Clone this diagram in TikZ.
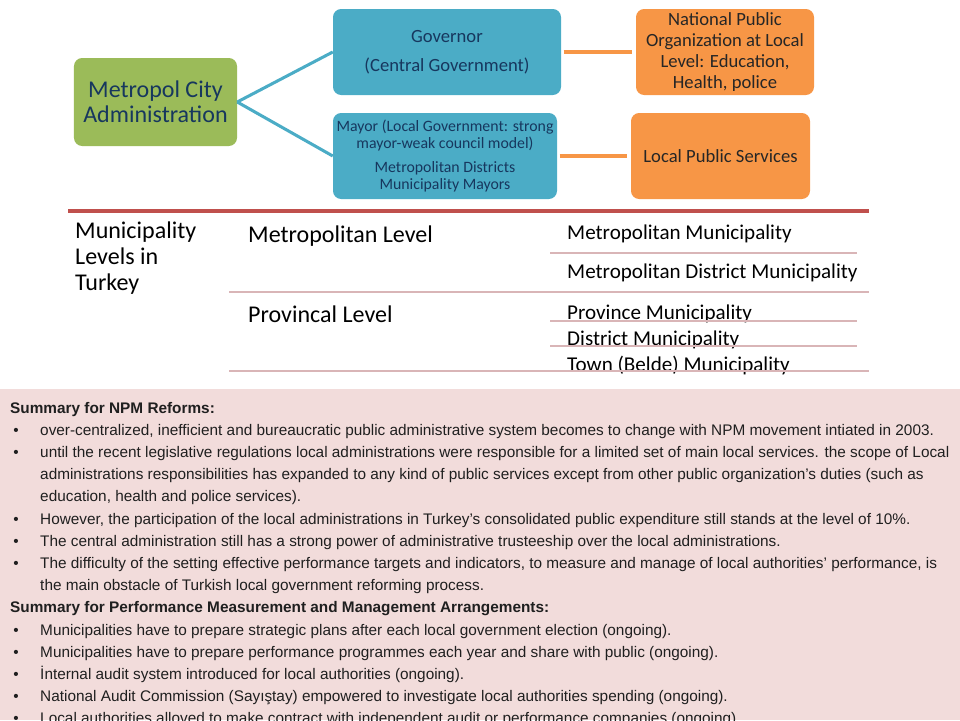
\documentclass[tikz,border=0pt]{standalone}
\usepackage{fontspec}
\setmainfont{Carlito}
\newfontfamily\notefont{Liberation Sans}
\definecolor{boxgreen}{HTML}{9BBB59}
\definecolor{boxblue}{HTML}{4BACC6}
\definecolor{boxorange}{HTML}{F79646}
\definecolor{navytext}{HTML}{17375E}
\definecolor{rulered}{HTML}{C0504D}
\definecolor{rulepink}{HTML}{D9B5B7}
\definecolor{notepink}{HTML}{F2DCDB}
\begin{document}
\begin{tikzpicture}[
 x=.03cm,y=-.03cm,
 cbox/.style={rounded corners=7pt,inner sep=0pt,align=center,minimum height=2.58cm},
 citybox/.style={cbox,fill=boxgreen,text=navytext,minimum width=4.89cm,
   minimum height=2.64cm,font=\fontsize{20.5}{21.3}\selectfont},
 govbox/.style={cbox,fill=boxblue,text=navytext},
 orgbox/.style={cbox,fill=boxorange,text=black!85,font=\fontsize{15.9}{17.7}\selectfont},
 blueline/.style={draw=boxblue,line width=2.6pt},
 orangeline/.style={draw=boxorange,line width=2.6pt},
 level/.style={anchor=base west,inner sep=0pt,align=left,font=\fontsize{20.5}{22}\selectfont},
 muni/.style={anchor=base west,inner sep=0pt,font=\fontsize{18}{20}\selectfont},
 thickrule/.style={draw=rulered,line width=2.6pt},
 thinrule/.style={draw=rulepink,line width=2.2pt},
 note/.style={anchor=base west,inner sep=0pt,text=black!88,font=\notefont\fontsize{13.1}{15}\selectfont},
 heading/.style={note,font=\notefont\bfseries\fontsize{13.1}{15}\selectfont},
 dot/.style={note,anchor=base}]
 \useasboundingbox (0,0) rectangle (960,720);
 \clip (0,0) rectangle (960,720);
 % Metropol city administration chart.
 \node[citybox] (city) at (155.5,102) {Metropol City\\Administration};
 \node[govbox,minimum width=6.84cm,font=\fontsize{15.9}{19}\selectfont] (gov) at (447,52)
   {Governor\\[6pt](Central Government)};
 \node[govbox,minimum width=6.72cm,font=\fontsize{13.5}{14.5}\selectfont] (mayor) at (445,156)
   {Mayor (Local Government: strong\\mayor-weak council model)\\[6pt]Metropolitan Districts\\Municipality Mayors};
 \node[orgbox,minimum width=5.34cm] (natorg) at (725,52)
   {National Public\\Organization at Local\\Level: Education,\\Health, police};
 \node[orgbox,minimum width=5.37cm] (locserv) at (720.5,156) {Local Public Services};
 \draw[blueline] (city.east)--(gov.west) (city.east)--(mayor.west);
 \draw[orangeline] ([xshift=2pt]gov.east)--([xshift=-3pt]natorg.west);
 \draw[orangeline] ([xshift=2pt]mayor.east)--([xshift=-3pt]locserv.west);
 % Municipality levels table.
 \node[level] (levels) at (75,290) {Municipality\\Levels in\\Turkey};
 \node[level] (metro) at (248,242) {Metropolitan Level};
 \node[level] (prov) at (248,322) {Provincal Level};
 \node[muni] (mm) at (567,239) {Metropolitan Municipality};
 \node[muni] (mdm) at (567,278) {Metropolitan District Municipality};
 \node[muni] (pm) at (567,319) {Province Municipality};
 \node[muni] (dm) at (567,345) {District Municipality};
 \node[muni] (tm) at (567,371) {Town (Belde) Municipality};
 \draw[thickrule] (68,211)--(869,211);
 \draw[thinrule] (550,253)--(857,253) (229,292)--(869,292)
                 (550,321)--(857,321) (550,346)--(857,346) (229,371)--(869,371);
 % Summary notes.
 \fill[notepink] (0,389) rectangle (960,720);
 \node[heading] (h0) at (10,413) {Summary for NPM Reforms:};
 \node[heading] (h9) at (10,413+22.2*9)
   {Summary for Performance Measurement and Management Arrangements:};
 \foreach \k/\txt in {
   1/{over-centralized, inefficient and bureaucratic public administrative system becomes to change with NPM movement intiated in 2003.},
   2/{until the recent legislative regulations local administrations were responsible for a limited set of main local services. the scope of Local},
   3/{administrations responsibilities has expanded to any kind of public services except from other public organization’s duties (such as},
   4/{education, health and police services).},
   5/{However, the participation of the local administrations in Turkey’s consolidated public expenditure still stands at the level of 10\%.},
   6/{The central administration still has a strong power of administrative trusteeship over the local administrations.},
   7/{The difficulty of the setting effective performance targets and indicators, to measure and manage of local authorities’ performance, is},
   8/{the main obstacle of Turkish local government reforming process.},
   10/{Municipalities have  to prepare strategic plans after each local government election (ongoing).},
   11/{Municipalities have to prepare performance programmes each year and  share with public (ongoing).},
   12/{İnternal audit system introduced for local authorities (ongoing).},
   13/{National Audit Commission (Sayıştay) empowered to investigate local authorities spending (ongoing).},
   14/{Local authorities alloved to make contract with independent audit or performance companies (ongoing).}}{
   \node[note] (n\k) at (40,413+22.2*\k) {\txt};
 }
 \foreach \k in {1,2,5,6,7,10,11,12,13,14}{\node[dot] (b\k) at (16,413+22.2*\k) {\textbullet};}
\end{tikzpicture}
\end{document}
